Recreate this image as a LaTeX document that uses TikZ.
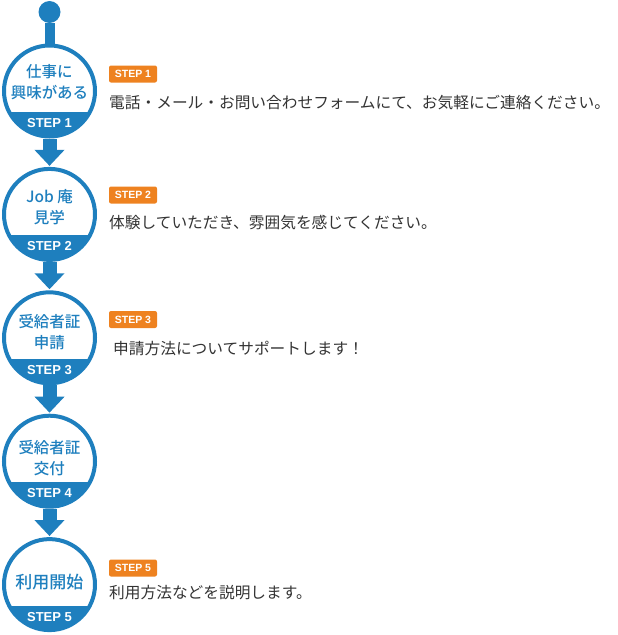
\documentclass[tikz,border=0pt]{standalone}
\usepackage{fontspec}
\usepackage{xcolor}
\newfontfamily\jpfont{Noto Sans CJK JP}
\newfontfamily\jpmedium{Noto Sans CJK JP Medium}
\newfontfamily\stepfont{Liberation Sans}
\usetikzlibrary{arrows.meta}
\definecolor{stepblue}{RGB}{30,127,190}
\definecolor{steporange}{RGB}{238,130,32}
\definecolor{desctext}{RGB}{51,51,51}
\tikzset{
    step-circle/.style = {draw=stepblue, fill=white, line width=4pt, circle, minimum size=91pt, inner sep=0pt},
    step-band/.style = {fill=stepblue},
    circle-label/.style = {text=stepblue, font=\jpmedium\fontsize{15.5}{21}\selectfont, align=center, inner sep=0pt},
    band-label/.style = {text=white, font=\stepfont\bfseries\fontsize{13}{13}\selectfont, inner sep=0pt},
    step-tag/.style = {fill=steporange, text=white, font=\stepfont\bfseries\fontsize{10.5}{10.5}\selectfont, rounded corners=2pt, minimum width=48pt, minimum height=17pt, inner sep=0pt},
    step-desc/.style = {text=desctext, font=\jpfont\fontsize{15.7}{18}\selectfont, anchor=west, inner sep=0pt},
    flow-arrow/.style = {draw=stepblue, line width=14pt, -{Triangle[width=29pt, length=16pt]}, shorten >=1pt},
}
\begin{document}
\begin{tikzpicture}[x=1pt, y=-1pt]
\useasboundingbox (0,0) rectangle (618,635);
% circles with the blue band at the bottom
\foreach \n/\cy in {1/91, 2/214.4, 3/337.8, 4/461.2, 5/584.6} {
    \node[step-circle] (c\n) at (49.5,\cy) {};
    \begin{scope}
        \clip (49.5,\cy) circle (45.5pt);
        \fill[step-band] (0,{\cy+21}) rectangle (100,{\cy+50});
    \end{scope}
    \node[band-label] (c\n-step) at (49.5,{\cy+32}) {STEP \n};
}
% start dot
\node[circle, fill=stepblue, minimum size=22pt, inner sep=0pt] (start) at (49.5,12) {};
\draw[stepblue, line width=10pt] (start) -- (c1.north);
% labels inside the circles
\node[circle-label] (c1-label) at (49.5,82.5) {仕事に\\興味がある};
\node[circle-label] (c2-label) at (49.5,207) {Job 庵\\見学};
\node[circle-label] (c3-label) at (49.5,332) {受給者証\\申請};
\node[circle-label] (c4-label) at (49.5,458) {受給者証\\交付};
\node[circle-label, font=\jpmedium\fontsize{17}{21}\selectfont] (c5-label) at (49.5,582) {利用開始};
% arrows
\foreach \a/\b in {1/2, 2/3, 3/4, 4/5}
    \draw[flow-arrow] (c\a.south) -- (c\b.north);
% tags and texts
\node[step-tag] (tag1) at (133,74) {STEP 1};
\node[step-desc] (desc1) at (109,103) {電話・メール・お問い合わせフォームにて、お気軽にご連絡ください。};
\node[step-tag] (tag2) at (133,195) {STEP 2};
\node[step-desc] (desc2) at (109,223) {体験していただき、雰囲気を感じてください。};
\node[step-tag] (tag3) at (133,319.5) {STEP 3};
\node[step-desc] (desc3) at (113,348) {申請方法についてサポートします！};
\node[step-tag] (tag5) at (133,568) {STEP 5};
\node[step-desc] (desc5) at (109,593) {利用方法などを説明します。};
\end{tikzpicture}
\end{document}
